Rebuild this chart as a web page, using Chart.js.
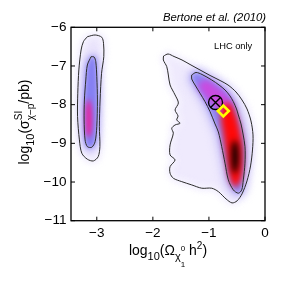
<!DOCTYPE html>
<html><head><meta charset="utf-8">
<script src="https://cdn.jsdelivr.net/npm/chart.js@4.4.1/dist/chart.umd.min.js"></script>
<style>html,body{margin:0;padding:0;background:#fff;overflow:hidden}</style>
</head><body>
<canvas id="c" width="291" height="291" style="width:291px;height:291px;display:block"></canvas>
<script>
// ---- axes ----
const xRange = [-3.46, 0];
const yRange = [-11, -6];
const xTicks = [-3, -2, -1, 0];
const yTicks = [-11, -10, -9, -8, -7, -6];

// ---- contours [log10(Omega h^2), log10(sigma)] ----
const leftOuter = [[-3.168,-6.243],[-3.030,-6.199],[-2.911,-6.258],[-2.880,-6.413],[-2.875,-6.760],[-2.915,-7.189],[-2.941,-7.879],[-2.954,-8.568],[-2.945,-9.085],[-2.975,-9.344],[-3.061,-9.455],[-3.168,-9.411],[-3.267,-9.256],[-3.310,-8.912],[-3.343,-8.310],[-3.339,-7.705],[-3.320,-7.103],[-3.280,-6.587],[-3.239,-6.372]];
const leftInner = [[-3.102,-6.760],[-3.048,-6.767],[-3.018,-6.889],[-3.000,-7.276],[-2.989,-7.879],[-3.000,-8.568],[-3.030,-8.956],[-3.089,-9.101],[-3.168,-9.085],[-3.209,-8.912],[-3.226,-8.395],[-3.221,-7.879],[-3.196,-7.362],[-3.168,-6.974]];
const leftPeak = [[-3.146,-7.827],[-3.102,-8.008],[-3.084,-8.344],[-3.093,-8.654],[-3.137,-8.860],[-3.182,-8.757],[-3.200,-8.395],[-3.191,-8.034]];

const rightOuter = [[-1.809,-6.742],[-1.729,-6.690],[-1.622,-6.755],[-1.480,-6.845],[-1.337,-6.961],[-1.159,-7.103],[-0.980,-7.245],[-0.802,-7.375],[-0.660,-7.491],[-0.517,-7.672],[-0.410,-7.879],[-0.321,-8.111],[-0.250,-8.421],[-0.214,-8.783],[-0.223,-9.171],[-0.258,-9.584],[-0.321,-9.972],[-0.410,-10.307],[-0.499,-10.488],[-0.588,-10.540],[-0.695,-10.437],[-0.832,-10.248],[-0.950,-10.160],[-1.128,-10.160],[-1.307,-10.075],[-1.485,-9.990],[-1.635,-9.902],[-1.693,-9.773],[-1.693,-9.602],[-1.604,-9.429],[-1.693,-9.300],[-1.693,-9.041],[-1.635,-8.739],[-1.663,-8.610],[-1.604,-8.525],[-1.515,-8.481],[-1.574,-8.395],[-1.551,-8.292],[-1.604,-8.137],[-1.545,-7.956],[-1.604,-7.749],[-1.693,-7.491],[-1.724,-7.233],[-1.752,-7.018],[-1.813,-6.845]];
const rightInner = [[-1.307,-7.233],[-1.230,-7.168],[-1.123,-7.220],[-0.950,-7.362],[-0.820,-7.491],[-0.713,-7.620],[-0.624,-7.775],[-0.565,-7.922],[-0.508,-8.111],[-0.476,-8.266],[-0.428,-8.499],[-0.392,-8.757],[-0.357,-9.085],[-0.357,-9.514],[-0.387,-9.946],[-0.415,-10.204],[-0.476,-10.289],[-0.565,-10.204],[-0.654,-9.946],[-0.713,-9.514],[-0.772,-9.085],[-0.832,-8.705],[-0.891,-8.499],[-0.980,-8.181],[-1.070,-7.922],[-1.159,-7.705],[-1.248,-7.491],[-1.307,-7.336]];
const rightMagenta = [[-1.159,-7.413],[-1.034,-7.362],[-0.873,-7.517],[-0.713,-7.698],[-0.606,-7.904],[-0.570,-8.085],[-0.642,-8.189],[-0.766,-8.189],[-0.909,-8.034],[-1.034,-7.853],[-1.141,-7.646],[-1.194,-7.517]];
const rightRed = [[-0.731,-7.982],[-0.642,-7.956],[-0.570,-8.085],[-0.499,-8.344],[-0.446,-8.654],[-0.401,-9.041],[-0.392,-9.429],[-0.410,-9.817],[-0.455,-10.023],[-0.517,-10.127],[-0.588,-10.049],[-0.642,-9.817],[-0.677,-9.506],[-0.713,-9.119],[-0.749,-8.731],[-0.784,-8.395],[-0.775,-8.137]];
const rightCore = [[-0.544,-8.912],[-0.499,-8.990],[-0.472,-9.222],[-0.472,-9.481],[-0.499,-9.687],[-0.535,-9.791],[-0.579,-9.687],[-0.597,-9.429],[-0.597,-9.171],[-0.579,-8.990]];

// ---- markers ----
const bestFit = [-0.882, -7.943];
const benchmark = [-0.743, -8.163];

const FONT = '"Liberation Sans", Arial, Helvetica, sans-serif';
const pts = a => a.concat([a[0]]).map(p => ({x: p[0], y: p[1]}));
const CLEAR = 'rgba(0,0,0,0)';
function area(a, color, blur, order, edge, edgeW) {
  return {data: pts(a), showLine: true, pointRadius: 0, pointHoverRadius: 0, tension: 0.3,
    fill: 'shape', backgroundColor: color, borderColor: edge || CLEAR, borderWidth: edgeW || 1,
    blur: blur, order: order};
}
function contour(a, order) {
  return {data: pts(a), showLine: true, pointRadius: 0, pointHoverRadius: 0, tension: 0.3,
    fill: false, borderColor: '#2a2a2a', borderWidth: 1, order: order};
}

const datasets = [
  area(rightOuter, '#efeafd', 3, 100, '#f3f0fe', 5),
  area(rightInner, '#b9b1f6', 4, 90, '#d3ccf9', 10),
  area(rightInner, '#8b84f3', 2.5, 85),
  area(rightMagenta, '#c94be0', 3, 80),
  area(rightRed, '#ff0808', 3, 75),
  area(rightCore, '#000000', 3, 70),
  area(leftOuter, '#ebe5fc', 3, 60, '#f3f0fe', 5),
  area(leftInner, '#b3abf5', 3.5, 55, '#cbc4f8', 8),
  area(leftInner, '#8680f2', 2, 50),
  area(leftPeak, '#e8239e', 2.5, 45),
  contour(rightOuter, 10), contour(rightInner, 9), contour(leftOuter, 8), contour(leftInner, 7),
  {data: [{x: bestFit[0], y: bestFit[1]}], pointStyle: 'circle', pointRadius: 7, borderColor: '#000', borderWidth: 1.4, backgroundColor: CLEAR, order: 2},
  {data: [{x: bestFit[0], y: bestFit[1]}], pointStyle: 'crossRot', pointRadius: 7, borderColor: '#000', borderWidth: 1.4, backgroundColor: CLEAR, order: 1},
  {data: [{x: benchmark[0], y: benchmark[1]}], pointStyle: 'rectRot', pointRadius: 5.5, borderColor: '#ffff00', borderWidth: 2.6, backgroundColor: CLEAR, order: 0}
];

function setNextFilter(chart, meta) {
  const metas = chart.getSortedVisibleDatasetMetas();
  const k = meta ? metas.indexOf(meta) - 1 : metas.length - 1;
  const ds = k >= 0 ? chart.data.datasets[metas[k].index] : null;
  chart.ctx.filter = ds && ds.blur ? 'blur(' + ds.blur + 'px)' : 'none';
}
const blurPlugin = {
  id: 'blurLayers',
  beforeDatasetsDraw(chart) { setNextFilter(chart, null); },
  afterDatasetDraw(chart, args) { setNextFilter(chart, args.meta); },
  afterDatasetsDraw(chart) { chart.ctx.filter = 'none'; }
};

function drawRich(ctx, segs, cx, base) {
  let w = 0, pend = 0;
  const widths = segs.map(s => { ctx.font = s.s + 'px ' + FONT; return ctx.measureText(s.t).width; });
  segs.forEach((s, i) => { if (s.keep) pend = Math.max(pend, widths[i]); else { w += Math.max(pend, widths[i]); pend = 0; } });
  let x = cx - w / 2; pend = 0;
  ctx.textAlign = 'left'; ctx.textBaseline = 'alphabetic';
  segs.forEach((s, i) => {
    ctx.font = s.s + 'px ' + FONT;
    ctx.fillText(s.t, x, base + (s.dy || 0));
    if (s.keep) pend = Math.max(pend, widths[i]);
    else { x += Math.max(pend, widths[i]); pend = 0; }
  });
}

const decorPlugin = {
  id: 'decor',
  afterDraw(chart) {
    const ctx = chart.ctx, a = chart.chartArea, xs = chart.scales.x, ys = chart.scales.y;
    ctx.save();
    ctx.filter = 'none';
    ctx.strokeStyle = '#000'; ctx.lineWidth = 1.3;
    ctx.strokeRect(a.left, a.top, a.right - a.left, a.bottom - a.top);
    ctx.lineWidth = 1;
    ctx.beginPath();
    xTicks.forEach(v => { const p = xs.getPixelForValue(v); ctx.moveTo(p, a.bottom); ctx.lineTo(p, a.bottom - 4); ctx.moveTo(p, a.top); ctx.lineTo(p, a.top + 4); });
    yTicks.forEach(v => { const p = ys.getPixelForValue(v); ctx.moveTo(a.left, p); ctx.lineTo(a.left + 4, p); ctx.moveTo(a.right, p); ctx.lineTo(a.right - 4, p); });
    ctx.stroke();
    ctx.fillStyle = '#000';
    ctx.font = 'italic 11.3px ' + FONT; ctx.textAlign = 'right'; ctx.textBaseline = 'middle';
    ctx.fillText('Bertone et al. (2010)', 266, 17.5);
    ctx.font = '9.3px ' + FONT; ctx.textAlign = 'left';
    ctx.fillText('LHC only', 214, 46);
    drawRich(ctx, [
      {t: 'log', s: 14}, {t: '10', s: 11, dy: 4.5}, {t: '(Ω', s: 14}, {t: 'χ', s: 11, dy: 4.5},
      {t: '0', s: 8, dy: -4, keep: true}, {t: '1', s: 8, dy: 11.5}, {t: ' h', s: 14}, {t: '2', s: 10, dy: -6.5}, {t: ')', s: 14}
    ], (a.left + a.right) / 2, 255);
    ctx.save();
    ctx.translate(29, 122); ctx.rotate(-Math.PI / 2);
    drawRich(ctx, [
      {t: 'log', s: 14}, {t: '10', s: 11, dy: 4.5}, {t: '(σ', s: 14}, {t: 'SI', s: 10, dy: -7, keep: true},
      {t: 'χ−p', s: 10, dy: 5}, {t: '/pb)', s: 14}
    ], 0, 0);
    ctx.restore();
    ctx.restore();
  }
};

const fmt = v => (v < 0 ? '\u2212' + Math.abs(v) : String(v));
new Chart(document.getElementById('c'), {
  type: 'scatter',
  data: {datasets: datasets},
  options: {
    responsive: false, animation: false, events: [],
    layout: {padding: {left: 0, right: 26, top: 27.3, bottom: 0}},
    plugins: {legend: {display: false}, tooltip: {enabled: false}, title: {display: false}},
    scales: {
      x: {type: 'linear', min: xRange[0], max: xRange[1],
        afterBuildTicks: s => { s.ticks = xTicks.map(v => ({value: v})); },
        afterFit: s => { s.height = 70.3; },
        grid: {display: false, drawTicks: false}, border: {display: false},
        ticks: {callback: fmt, font: {family: FONT, size: 13.5}, color: '#000', padding: 4, maxRotation: 0, autoSkip: false}},
      y: {type: 'linear', min: yRange[0], max: yRange[1],
        afterBuildTicks: s => { s.ticks = yTicks.map(v => ({value: v})); },
        afterFit: s => { s.width = 71; },
        grid: {display: false, drawTicks: false}, border: {display: false},
        ticks: {callback: fmt, font: {family: FONT, size: 13.5}, color: '#000', padding: 4.5, autoSkip: false}}
    }
  },
  plugins: [blurPlugin, decorPlugin]
});
</script>
</body></html>
